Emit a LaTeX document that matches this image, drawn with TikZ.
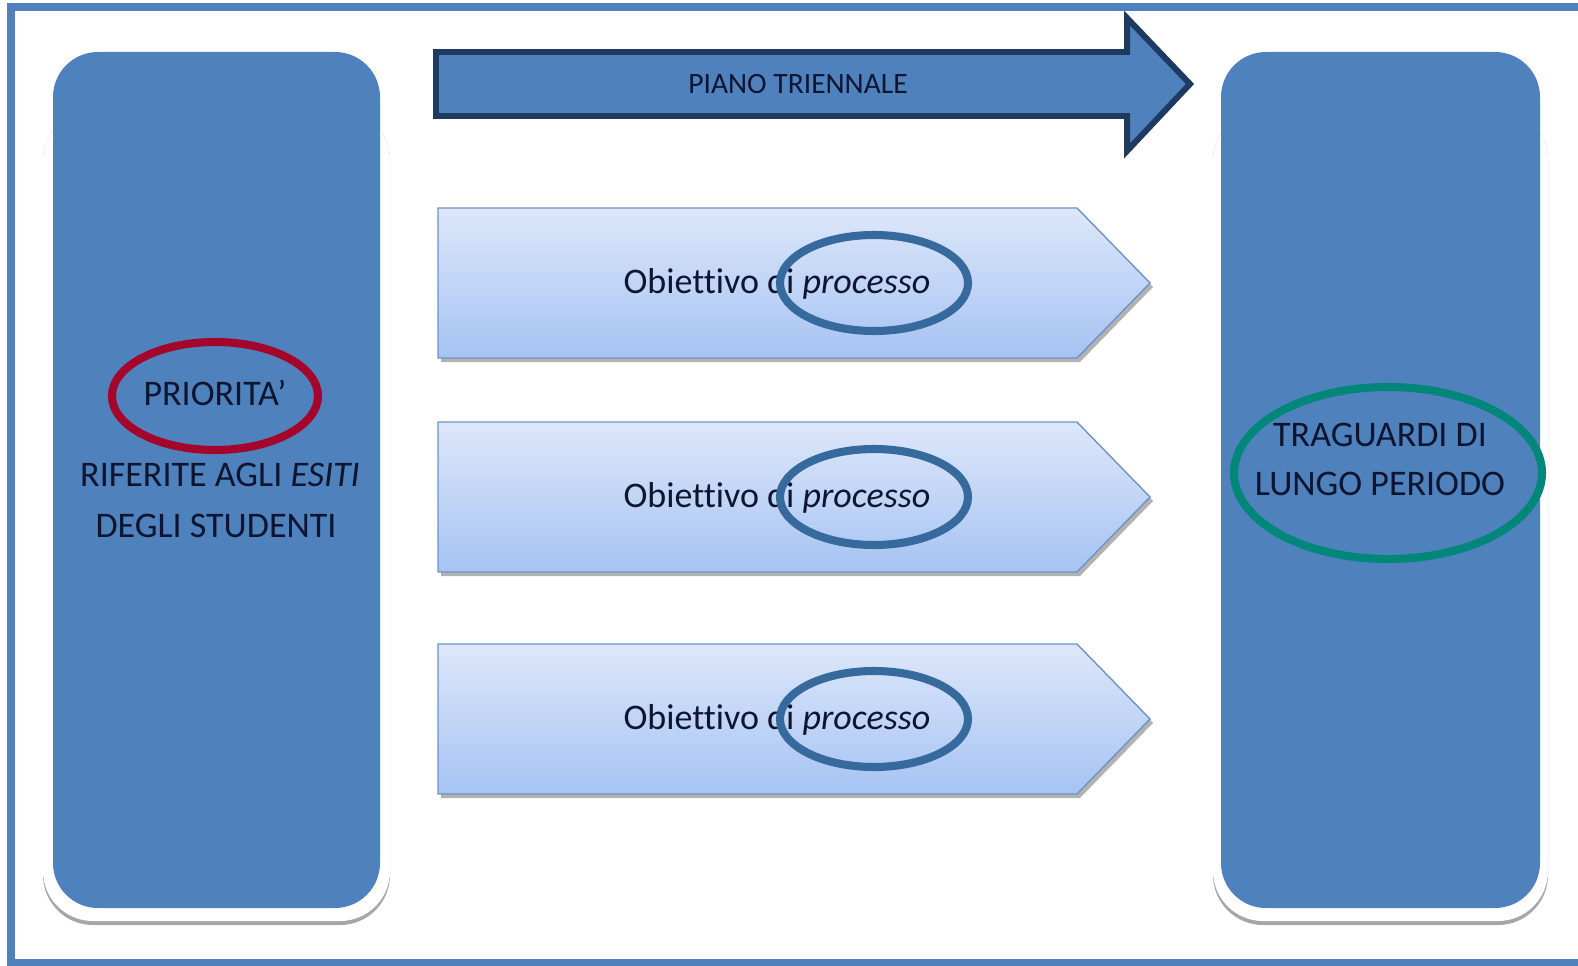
\documentclass[tikz,border=0pt]{standalone}
\usepackage{fontspec}
\setmainfont{Carlito}[Ligatures=NoCommon]
\usepackage{tikz}

\definecolor{boxblue}{HTML}{4F81BD}
\definecolor{arrowline}{HTML}{1F3A60}
\definecolor{textdark}{HTML}{0E1530}
\definecolor{ringblue}{HTML}{376A9C}
\definecolor{ringred}{HTML}{A3062A}
\definecolor{ringteal}{HTML}{00877A}
\definecolor{objtop}{HTML}{DDE7FA}
\definecolor{objbot}{HTML}{A6C3F3}
\definecolor{objline}{HTML}{7092C4}

\tikzset{
  colbox/.style={fill=boxblue,rounded corners=0.9cm},
  halo/.style={fill=white,rounded corners=1cm},
  haloshadow/.style={fill=black!35,rounded corners=1cm},
  ring/.style={line width=4.6pt},
  txt/.style={font=\fontsize{20.5}{24}\selectfont,text=textdark,text height=1.4ex,text depth=0.3ex},
  obj/.style={top color=objtop,bottom color=objbot,draw=objline,line width=0.8pt}
}

\begin{document}
\begin{tikzpicture}[x=0.02cm,y=-0.02cm]
\useasboundingbox (0,0) rectangle (1578,966);
% frame
\draw[boxblue,line width=4pt] (1578,7) -- (11,7) -- (11,963) -- (1578,963);

% left column
\fill[haloshadow] (43,110) rectangle (390,925);
\fill[halo] (43,110) rectangle (390,921);
\fill[colbox] (53,52) rectangle (380,908);
\node[txt] (prio) at (215,401) {PRIORITA’};
\draw[ring,ringred] (215,396) ellipse [x radius=103, y radius=54];
\node[txt] (esiti) at (220,482) {RIFERITE AGLI \textit{ESITI}};
\node[txt] (stud) at (216,533) {DEGLI STUDENTI};

% right column
\fill[haloshadow] (1213,110) rectangle (1548,925);
\fill[halo] (1213,110) rectangle (1548,921);
\fill[colbox] (1221,52) rectangle (1540,908);
\node[txt] (trag) at (1380,442) {TRAGUARDI DI};
\node[txt] (lungo) at (1380,491) {LUNGO PERIODO};
\draw[ring,ringteal] (1388,473) ellipse [x radius=154, y radius=86];

% top arrow
\draw[draw=arrowline,fill=boxblue,line width=3.4pt,line join=miter]
  (436,52) -- (1127,52) -- (1127,18) -- (1190,84) -- (1127,151) -- (1127,116) -- (436,116) -- cycle;
\node[txt,font=\fontsize{16.8}{20}\selectfont] (piano) at (798,89) {PIANO TRIENNALE};

% objectives
\foreach \t [count=\i] in {208,422,644} {
  \fill[black!30] (441,\t+4) -- (1080,\t+4) -- (1153,\t+79) -- (1080,\t+154) -- (441,\t+154) -- cycle;
  \shade[obj] (438,\t) -- (1077,\t) -- (1150,\t+75) -- (1077,\t+150) -- (438,\t+150) -- cycle;
  \node[txt] (obj\i) at (777,\t+81) {Obiettivo di \textit{processo}};
  \draw[ring,ringblue] (874,\t+75) ellipse [x radius=94, y radius=48];
}
\end{tikzpicture}
\end{document}
